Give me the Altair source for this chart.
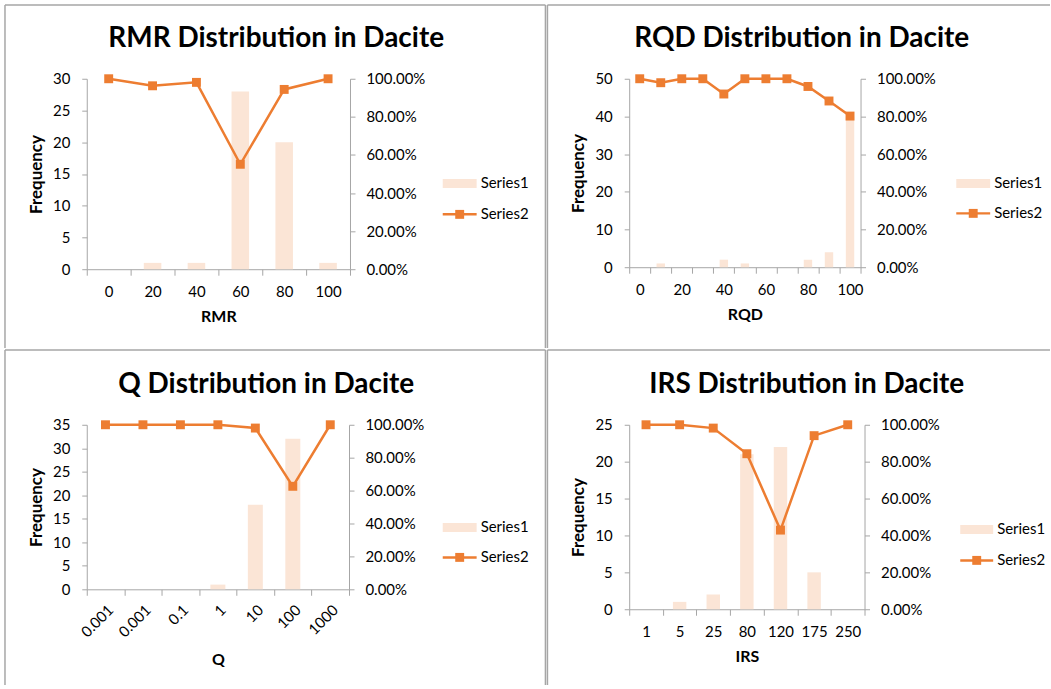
import altair as alt
import pandas as pd

FONT = "Lato"
BAR = "#FBE5D6"
LINE = "#ED7D31"
AXC = "#A6A6A6"
BORDER = "#A6A6A6"

# ---------------- data ----------------
rmr_labels = ["0", "20", "40", "60", "80", "100"]
rmr_freq = [0, 1, 1, 28, 20, 1]
rmr_pct = [1.0, 0.963, 0.981, 0.551, 0.944, 1.0]

rqd_labels = ["0", "10", "20", "30", "40", "50", "60", "70", "80", "90", "100"]
rqd_freq = [0, 1, 0, 0, 2, 1, 0, 0, 2, 4, 40]
rqd_pct = [1.0, 0.979, 1.0, 1.0, 0.919, 1.0, 1.0, 1.0, 0.959, 0.882, 0.802]

q_labels = ["0.001", "0.001", "0.1", "1", "10", "100", "1000"]
q_freq = [0, 0, 0, 1, 18, 32, 0]
q_pct = [1.0, 1.0, 1.0, 1.0, 0.98, 0.626, 1.0]

irs_labels = ["1", "5", "25", "80", "120", "175", "250"]
irs_freq = [0, 1, 2, 21, 22, 5, 0]
irs_pct = [1.0, 1.0, 0.982, 0.843, 0.429, 0.941, 1.0]

pct_ticks = [0, 0.2, 0.4, 0.6, 0.8, 1.0]


def one_row():
    return pd.DataFrame({"a": [0]})


def panel(title, xtitle, labels, freq, pct, ymax, ystep, w, h, geom,
          label_angle=0, show_every=1):
    df = pd.DataFrame({"idx": list(range(len(labels))), "freq": freq, "pct": pct})
    shown = [l if i % show_every == 0 else "" for i, l in enumerate(labels)]
    expr = "[" + ",".join("'" + s + "'" for s in shown) + "][datum.value]"

    xaxis = alt.Axis(
        title=xtitle, labelExpr=expr, tickBand="extent", labelAngle=label_angle,
        domainColor=AXC, tickColor=AXC, tickSize=6, labelPadding=geom.get("xlp", 9),
        titlePadding=geom.get("xtp", 9), labelFontSize=15, titleFontSize=16,
        titleFontWeight="bold", labelColor="#000000", titleColor="#000000",
    )
    x = alt.X("idx:O", axis=xaxis, scale=alt.Scale(paddingInner=0, paddingOuter=0))

    bars = alt.Chart(df).mark_bar(color=BAR, width=alt.RelativeBandSize(0.4)).encode(
        x=x,
        y=alt.Y("freq:Q", scale=alt.Scale(domain=[0, ymax]),
                axis=alt.Axis(title="Frequency", orient="left", grid=False,
                              values=list(range(0, ymax + 1, ystep)),
                              domainColor=AXC, tickColor=AXC, tickSize=5,
                              labelPadding=12, titlePadding=7, labelFontSize=15,
                              titleFontSize=17, titleFontWeight="bold",
                              labelColor="#000000", titleColor="#000000")),
    )
    line = alt.Chart(df).mark_line(
        color=LINE, strokeWidth=2.5,
        point=alt.OverlayMarkDef(shape="square", filled=True, size=80, color=LINE, opacity=1),
    ).encode(
        x=x,
        y=alt.Y("pct:Q", scale=alt.Scale(domain=[0, 1]),
                axis=alt.Axis(title=None, orient="right", grid=False, format=".2%",
                              values=pct_ticks, domainColor=AXC, tickColor=AXC,
                              tickSize=5, labelPadding=11, labelFontSize=15,
                              labelColor="#000000")),
    )

    tx, ty = geom["title"]
    ttl = alt.Chart(one_row()).mark_text(
        text=title, fontSize=28, fontWeight="bold", font=FONT, align="center",
        baseline="middle", color="#000000",
    ).encode(x=alt.value(tx), y=alt.value(ty))

    rx0, rx1, ry, ly = geom["legend"]
    leg_rect = alt.Chart(one_row()).mark_rect(color=BAR).encode(
        x=alt.value(rx0), x2=alt.value(rx1), y=alt.value(ry - 4.5), y2=alt.value(ry + 4.5))
    leg_line = alt.Chart(one_row()).mark_rule(color=LINE, strokeWidth=2.5).encode(
        x=alt.value(rx0), x2=alt.value(rx1), y=alt.value(ly))
    leg_pt = alt.Chart(one_row()).mark_point(
        shape="square", filled=True, size=80, color=LINE, opacity=1).encode(
        x=alt.value((rx0 + rx1) / 2), y=alt.value(ly))
    leg_t1 = alt.Chart(one_row()).mark_text(
        text="Series1", align="left", baseline="middle", fontSize=15, font=FONT,
        color="#000000").encode(x=alt.value(rx1 + 4), y=alt.value(ry))
    leg_t2 = alt.Chart(one_row()).mark_text(
        text="Series2", align="left", baseline="middle", fontSize=15, font=FONT,
        color="#000000").encode(x=alt.value(rx1 + 4), y=alt.value(ly))

    layers = [bars, line, ttl, leg_rect, leg_line, leg_pt, leg_t1, leg_t2]
    for b in geom["borders"]:
        if b[0] == "h":
            _, y0, x0, x1 = b
            r = alt.Chart(one_row()).mark_rule(color=BORDER, strokeWidth=1.5).encode(
                x=alt.value(x0), x2=alt.value(x1), y=alt.value(y0))
        else:
            _, x0, y0, y1 = b
            r = alt.Chart(one_row()).mark_rule(color=BORDER, strokeWidth=1.5).encode(
                x=alt.value(x0), y=alt.value(y0), y2=alt.value(y1))
        layers.append(r)

    return alt.layer(*layers).resolve_scale(y="independent").properties(width=w, height=h)


tl = panel("RMR Distribution in Dacite", "RMR", rmr_labels, rmr_freq, rmr_pct, 30, 5,
           264, 191,
           {"title": (190, -40), "legend": (357, 391, 105, 136),
            "borders": [("h", -74, -82, 460), ("v", -82, -74, 270), ("v", 460, -74, 270)]})
tr = panel("RQD Distribution in Dacite", "RQD", rqd_labels, rqd_freq, rqd_pct, 50, 10,
           232, 189,
           {"title": (173, -40), "legend": (328, 362, 105, 135),
            "borders": [("h", -74, -82, 422), ("v", -82, -74, 270)]},
           show_every=2)
bl = panel("Q Distribution in Dacite", "Q", q_labels, q_freq, q_pct, 35, 5,
           263, 165,
           {"title": (180, -40), "legend": (357, 391, 103, 133),
            "borders": [("h", -75, -82, 460), ("v", -82, -75, 261), ("v", 460, -75, 261)],
            "xlp": 7, "xtp": 12},
           label_angle=315)
br = panel("IRS Distribution in Dacite", "IRS", irs_labels, irs_freq, irs_pct, 25, 5,
           236, 185,
           {"title": (178, -40), "legend": (332, 365, 105, 136),
            "borders": [("h", -75, -82, 422), ("v", -82, -75, 261)]})

chart = alt.vconcat(
    alt.hconcat(tl, tr, spacing=0),
    alt.hconcat(bl, br, spacing=0),
    spacing=0,
).properties(
    padding={"left": 4, "top": 3, "right": 0, "bottom": 0}
).configure(font=FONT).configure_view(strokeWidth=0).configure_axis(
    labelFont=FONT, titleFont=FONT
)

chart.save("out.html", embed_options={"renderer": "svg", "actions": False})
